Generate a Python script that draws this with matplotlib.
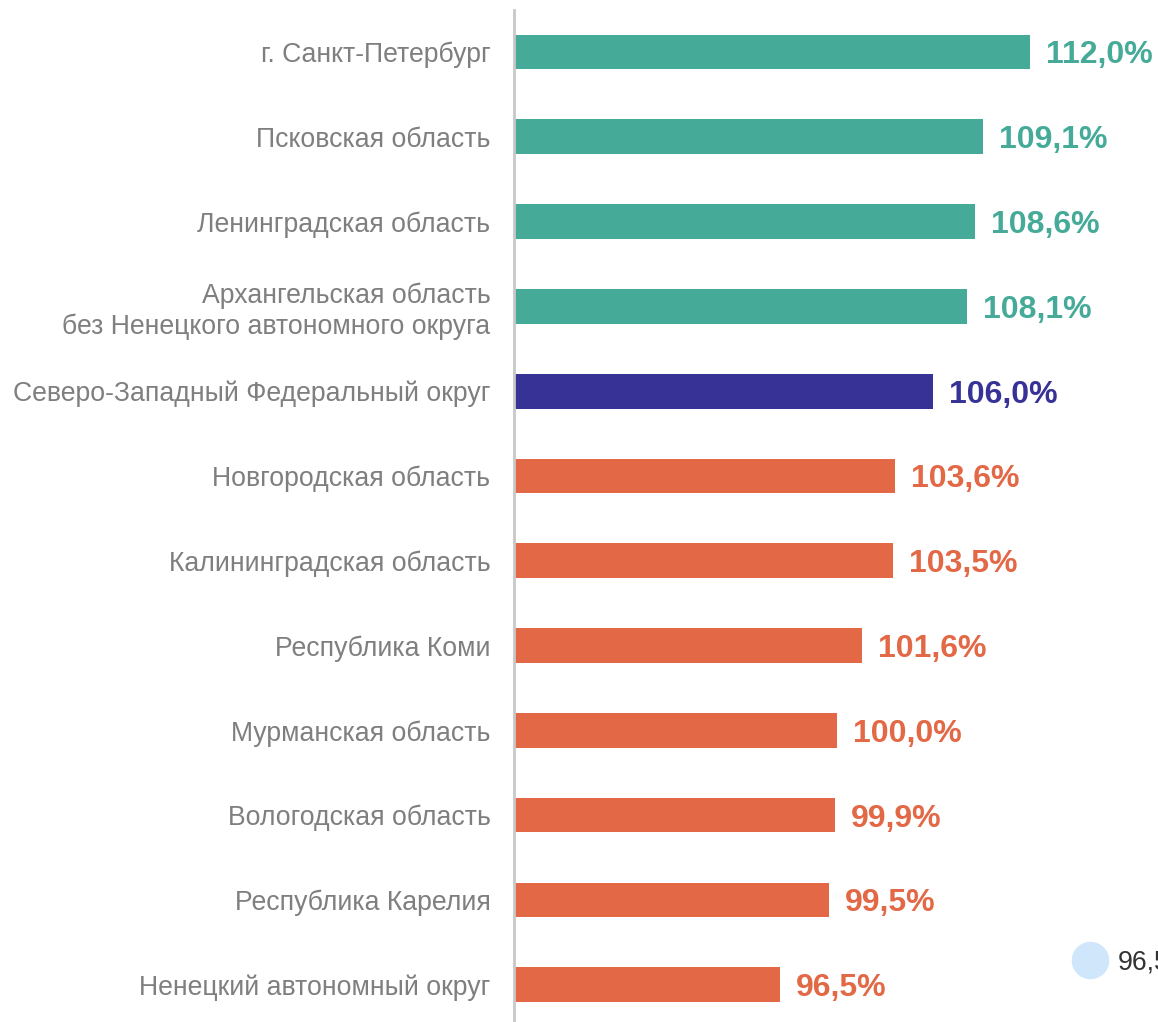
import matplotlib.pyplot as plt

plt.rcParams['font.family'] = ['Liberation Sans', 'DejaVu Sans']

# regions, top to bottom
regions = [
    'г. Санкт-Петербург',
    'Псковская область',
    'Ленинградская область',
    'Архангельская область\nбез Ненецкого автономного округа',
    'Северо-Западный Федеральный округ',
    'Новгородская область',
    'Калининградская область',
    'Республика Коми',
    'Мурманская область',
    'Вологодская область',
    'Республика Карелия',
    'Ненецкий автономный округ',
]
values = [112.0, 109.1, 108.6, 108.1, 106.0, 103.6, 103.5, 101.6, 100.0, 99.9, 99.5, 96.5]
labels = ['112,0%', '109,1%', '108,6%', '108,1%', '106,0%', '103,6%', '103,5%',
          '101,6%', '100,0%', '99,9%', '99,5%', '96,5%']

green = '#45ab98'
navy = '#373295'
orange = '#e26846'
district = 106.0

colors = []
for r, v in zip(regions, values):
    if r.startswith('Северо-Западный'):
        colors.append(navy)
    elif v > district:
        colors.append(green)
    else:
        colors.append(orange)

base = 80
W, H = 1158, 1022
fig = plt.figure(figsize=(W / 100, H / 100), dpi=100)
ax = fig.add_axes([514 / W, 0, 1 - 514 / W, 1012 / H])

y = list(range(len(regions)))
ax.barh(y, [v - base for v in values], left=base, height=0.41, color=colors)

for yi, v, lab, c in zip(y, values, labels, colors):
    ax.annotate(lab, (v, yi), xytext=(11.5, -2.5), textcoords='offset points',
                ha='left', va='center', fontsize=23, fontweight='bold', color=c)

ax.set_xlim(base, base + 644 / 16.13)
ax.set_ylim(11.44, -0.495)
ax.set_yticks(y)
ax.set_yticklabels(regions, fontsize=19.2, color='#7f7f7f', ha='right',
                   linespacing=1.2)
ax.tick_params(axis='y', length=0, pad=17)
ax.set_xticks([])
for s in ['top', 'right', 'bottom']:
    ax.spines[s].set_visible(False)
ax.spines['left'].set_color('#c8c8c8')
ax.spines['left'].set_linewidth(2)

# stray legend fragment at the lower right edge
fig.add_artist(plt.Line2D([1090 / W], [1 - 960 / H], marker='o', markersize=26,
                          color='#d0e6fb', linestyle='none'))
fig.text(1118 / W, 1 - 962 / H, '96,5', fontsize=19.2, color='#333333',
         ha='left', va='center')

fig.savefig('out.png', dpi=100)
